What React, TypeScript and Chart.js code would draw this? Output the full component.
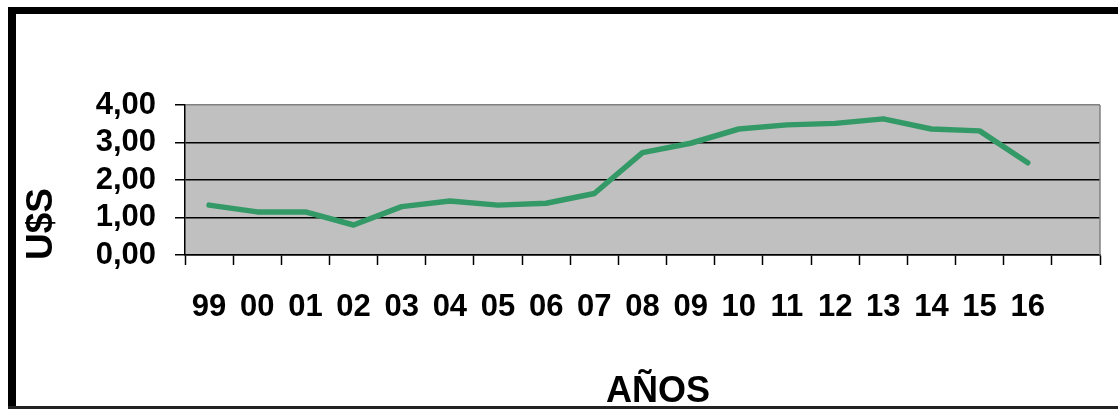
import React, { useEffect, useRef } from "react";
import { Chart, registerables } from "chart.js";

Chart.register(...registerables);

const categories = ["99", "00", "01", "02", "03", "04", "05", "06", "07", "08", "09", "10", "11", "12", "13", "14", "15", "16", ""];
const values = [1.33, 1.15, 1.15, 0.8, 1.29, 1.44, 1.33, 1.38, 1.64, 2.73, 2.98, 3.36, 3.47, 3.51, 3.63, 3.36, 3.31, 2.46];
const yTitle = "U$S";
const xTitle = "AÑOS";

const FONT = "'Liberation Sans', Arial, sans-serif";

const framePlugin = {
  id: "frame",
  beforeDraw(chart: any) {
    const { ctx, chartArea } = chart;
    ctx.save();
    ctx.fillStyle = "#ffffff";
    ctx.fillRect(0, 0, chart.width, chart.height);
    ctx.fillStyle = "#000000";
    ctx.fillRect(8, 7, chart.width - 8, 7);
    ctx.fillRect(8, 7, 8, chart.height - 7);
    ctx.fillStyle = "#222222";
    ctx.fillRect(8, 406, chart.width - 8, 3);
    ctx.fillStyle = "#C0C0C0";
    ctx.fillRect(chartArea.left, chartArea.top, chartArea.right - chartArea.left, chartArea.bottom - chartArea.top);
    ctx.restore();
  },
  afterDatasetsDraw(chart: any) {
    const { ctx, chartArea } = chart;
    ctx.save();
    ctx.strokeStyle = "#808080";
    ctx.lineWidth = 1.5;
    ctx.beginPath();
    ctx.moveTo(chartArea.right, chartArea.top);
    ctx.lineTo(chartArea.right, chartArea.bottom);
    ctx.stroke();
    ctx.restore();
  },
  afterDraw(chart: any) {
    const { ctx } = chart;
    ctx.save();
    ctx.fillStyle = "#000000";
    ctx.font = `bold 37px ${FONT}`;
    ctx.textAlign = "center";
    ctx.textBaseline = "middle";
    ctx.translate(42, 224);
    ctx.rotate(-Math.PI / 2);
    ctx.fillText(yTitle, 0, 0);
    ctx.restore();
    ctx.save();
    ctx.fillStyle = "#000000";
    ctx.font = `bold 36px ${FONT}`;
    ctx.textAlign = "center";
    ctx.textBaseline = "alphabetic";
    ctx.fillText(xTitle, 658, 402);
    ctx.restore();
  },
};

export default function App() {
  const ref = useRef<HTMLCanvasElement>(null);
  useEffect(() => {
    if (!ref.current) return;
    const chart = new Chart(ref.current, {
      type: "line",
      data: {
        labels: categories,
        datasets: [
          {
            data: values,
            borderColor: "#339966",
            borderWidth: 5.5,
            pointRadius: 0,
            tension: 0,
            fill: false,
            borderCapStyle: "round",
            borderJoinStyle: "round",
          },
        ],
      },
      options: {
        animation: false,
        responsive: false,
        devicePixelRatio: 1,
        layout: { padding: { top: 105, right: 18, left: 0, bottom: 0 } },
        plugins: { legend: { display: false }, tooltip: { enabled: false } },
        scales: {
          x: {
            offset: true,
            afterFit(scale: any) {
              scale.height = 154;
            },
            grid: {
              offset: true,
              drawOnChartArea: false,
              drawTicks: true,
              tickLength: 10,
              tickColor: "#000000",
              tickWidth: 1.5,
            },
            border: { color: "#000000", width: 1.5 },
            ticks: {
              color: "#000000",
              font: { family: FONT, weight: "bold", size: 31 },
              padding: 24,
              maxRotation: 0,
              autoSkip: false,
            },
          },
          y: {
            min: 0,
            max: 4,
            afterFit(scale: any) {
              scale.width = 185;
            },
            grid: {
              color: (c: any) => (c.tick && c.tick.value === 4 ? "#808080" : "#000000"),
              lineWidth: 1.5,
              drawTicks: true,
              tickLength: 10,
              tickColor: "#000000",
              tickWidth: 1.5,
            },
            border: { color: "#000000", width: 1.5 },
            ticks: {
              stepSize: 1,
              autoSkip: false,
              color: "#000000",
              font: { family: FONT, weight: "bold", size: 31 },
              padding: 19,
              callback: (v: any) => Number(v).toFixed(2).replace(".", ","),
            },
          },
        },
      },
      plugins: [framePlugin],
    } as any);
    return () => chart.destroy();
  }, []);
  return (
    <div style={{ position: "absolute", left: 0, top: 0, width: 1118, height: 409 }}>
      <canvas ref={ref} width={1118} height={409} style={{ width: 1118, height: 409, display: "block" }} />
    </div>
  );
}
